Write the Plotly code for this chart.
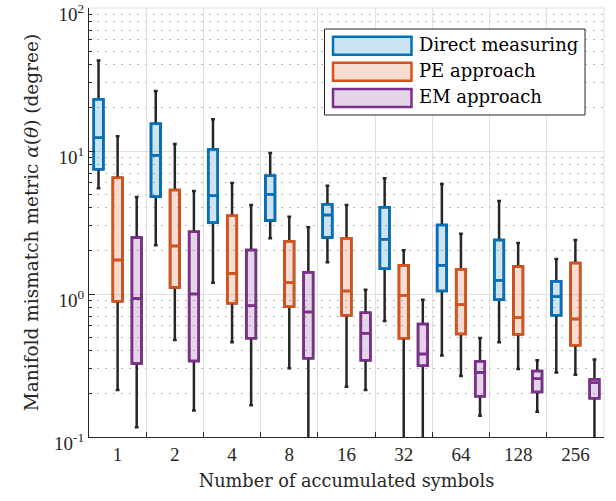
import plotly.graph_objects as go

cats = ["1", "2", "4", "8", "16", "32", "64", "128", "256"]

# Direct measuring
dm_upper = [43, 26.3, 16.7, 9.7, 5.72, 6.44, 5.88, 4.47, 1.76]
dm_q3 = [23, 15.5, 10.3, 6.72, 4.24, 4.04, 3.04, 2.39, 1.23]
dm_med = [12.4, 9.33, 4.87, 4.98, 3.57, 2.41, 1.59, 1.25, 0.957]
dm_q1 = [7.45, 4.79, 3.15, 3.26, 2.48, 1.5, 1.05, 0.912, 0.71]
dm_lower = [5.5, 2.19, 1.2, 2.45, 1.67, 0.648, 0.372, 0.459, 0.283]

# PE approach
pe_upper = [12.7, 11.2, 5.97, 3.47, 4.2, 2.02, 2.64, 2.27, 2.39]
pe_q3 = [6.5, 5.33, 3.53, 2.34, 2.45, 1.59, 1.49, 1.56, 1.65]
pe_med = [1.73, 2.17, 1.39, 1.2, 1.05, 0.98, 0.84, 0.683, 0.668]
pe_q1 = [0.89, 1.11, 0.86, 0.815, 0.71, 0.49, 0.525, 0.524, 0.438]
pe_lower = [0.213, 0.477, 0.459, 0.302, 0.225, 0.05, 0.267, 0.299, 0.272]

# EM approach
em_upper = [4.77, 5.25, 4.2, 2.93, 1.07, 0.91, 0.492, 0.344, 0.349]
em_q3 = [2.48, 2.73, 2.03, 1.42, 0.74, 0.617, 0.338, 0.29, 0.253]
em_med = [0.93, 1.0, 0.828, 0.748, 0.531, 0.38, 0.282, 0.255, 0.24]
em_q1 = [0.327, 0.34, 0.49, 0.355, 0.344, 0.315, 0.193, 0.206, 0.187]
em_lower = [0.117, 0.153, 0.167, 0.05, 0.213, 0.05, 0.141, 0.15, 0.05]

series_names = ["Direct measuring", "PE approach", "EM approach"]

y_tickvals = [0.1, 1, 10, 100]
y_ticktext = ["10<sup>-1</sup>", "10<sup>0</sup>", "10<sup>1</sup>", "10<sup>2</sup>"]

line_colors = ["#0072BD", "#D95319", "#7E2F8E"]
fill_colors = ["rgba(0,114,189,0.2)", "rgba(217,83,25,0.2)", "rgba(126,47,142,0.2)"]

series = [
    (dm_lower, dm_q1, dm_med, dm_q3, dm_upper),
    (pe_lower, pe_q1, pe_med, pe_q3, pe_upper),
    (em_lower, em_q1, em_med, em_q3, em_upper),
]

TICKFONT = "Liberation Serif"
TEXTFONT = "DejaVu Serif"
W, H = 616, 501
L, R, T, B = 89, 12, 8, 64

fig = go.Figure()
for i, (lo, q1, med, q3, up) in enumerate(series):
    name = series_names[i]
    # black whiskers
    fig.add_trace(go.Box(
        x=cats, lowerfence=lo, q1=q1, median=med, q3=q3, upperfence=up,
        offsetgroup=str(i), name=name, showlegend=False,
        line=dict(color="#262626", width=2.5), fillcolor="rgba(0,0,0,0)",
        whiskerwidth=0.4, boxpoints=False, hoverinfo="skip",
    ))
    # colored box
    fig.add_trace(go.Box(
        x=cats, lowerfence=q1, q1=q1, median=med, q3=q3, upperfence=q3,
        offsetgroup=str(i), name=name, showlegend=False,
        line=dict(color=line_colors[i], width=2.5), fillcolor=fill_colors[i],
        whiskerwidth=0, boxpoints=False,
    ))

minor_vals = []
for d in [0.1, 1, 10]:
    for k in range(2, 10):
        minor_vals.append(round(d * k, 4))

# pixel -> paper helpers (legend drawn MATLAB-style)
def px(x):
    return (x - L) / (W - L - R)

def py(y):
    return (H - B - y) / (H - T - B)

shapes = []
annotations = []
# top and right frame edges (light, like grid)
shapes.append(dict(type="line", xref="paper", yref="paper", x0=0, x1=1, y0=1, y1=1,
                   line=dict(color="#e0e0e0", width=1), layer="below"))
shapes.append(dict(type="line", xref="paper", yref="paper", x0=1, x1=1, y0=0, y1=1,
                   line=dict(color="#e0e0e0", width=1), layer="below"))
# legend frame
shapes.append(dict(type="rect", xref="paper", yref="paper",
                   x0=px(324.5), x1=px(585), y0=py(115), y1=py(29),
                   line=dict(color="#262626", width=1), fillcolor="white", layer="above"))
sw_centers = [45.7, 71.8, 98.0]
for i, name in enumerate(series_names):
    yc = sw_centers[i]
    shapes.append(dict(type="rect", xref="paper", yref="paper",
                       x0=px(333), x1=px(411.5), y0=py(yc + 9), y1=py(yc - 9),
                       line=dict(color=line_colors[i], width=2.5),
                       fillcolor=fill_colors[i], layer="above"))
    annotations.append(dict(text=name, xref="paper", yref="paper",
                            x=px(417), y=py(yc - 1.5), xanchor="left", yanchor="middle",
                            showarrow=False,
                            font=dict(family=TEXTFONT, size=18, color="#000000")))

fig.update_layout(
    width=W, height=H,
    margin=dict(l=L, r=R, t=T, b=B, autoexpand=False),
    paper_bgcolor="white", plot_bgcolor="white",
    boxmode="group", boxgap=0.0, boxgroupgap=0.5,
    font=dict(family=TEXTFONT, size=17, color="#262626"),
    showlegend=False,
    shapes=shapes, annotations=annotations,
    xaxis=dict(
        type="category", categoryorder="array", categoryarray=cats,
        range=[-0.5, 8.5], tickson="boundaries",
        ticks="inside", ticklen=5, tickcolor="#262626",
        showline=True, linecolor="#262626", linewidth=1,
        showgrid=True, gridcolor="#e0e0e0", gridwidth=1,
        title=dict(text="Number of accumulated symbols", standoff=10,
                   font=dict(family=TEXTFONT, size=17.7, color="#262626")),
        tickfont=dict(family=TICKFONT, size=19, color="#262626"),
        zeroline=False, automargin=True,
    ),
    yaxis=dict(
        type="log", range=[-1, 2.0],
        tickmode="array", tickvals=y_tickvals, ticktext=y_ticktext,
        ticklabeloverflow="allow", ticklabelshift=6,
        ticks="inside", ticklen=6, tickcolor="#262626",
        showline=True, linecolor="#262626", linewidth=1,
        showgrid=True, gridcolor="#e0e0e0", gridwidth=1,
        minor=dict(tickmode="array", tickvals=minor_vals, ticks="inside",
                   ticklen=3, tickcolor="#262626", showgrid=True,
                   gridcolor="#bcbcbc", gridwidth=1, griddash="2px,6px"),
        title=dict(text="Manifold mismatch metric <i>α</i>(<i>θ</i>) (degree)", standoff=10,
                   font=dict(family=TEXTFONT, size=18.5, color="#262626")),
        tickfont=dict(family=TICKFONT, size=19, color="#262626"),
        zeroline=False, automargin=True,
    ),
)

fig.write_html("out.html")
